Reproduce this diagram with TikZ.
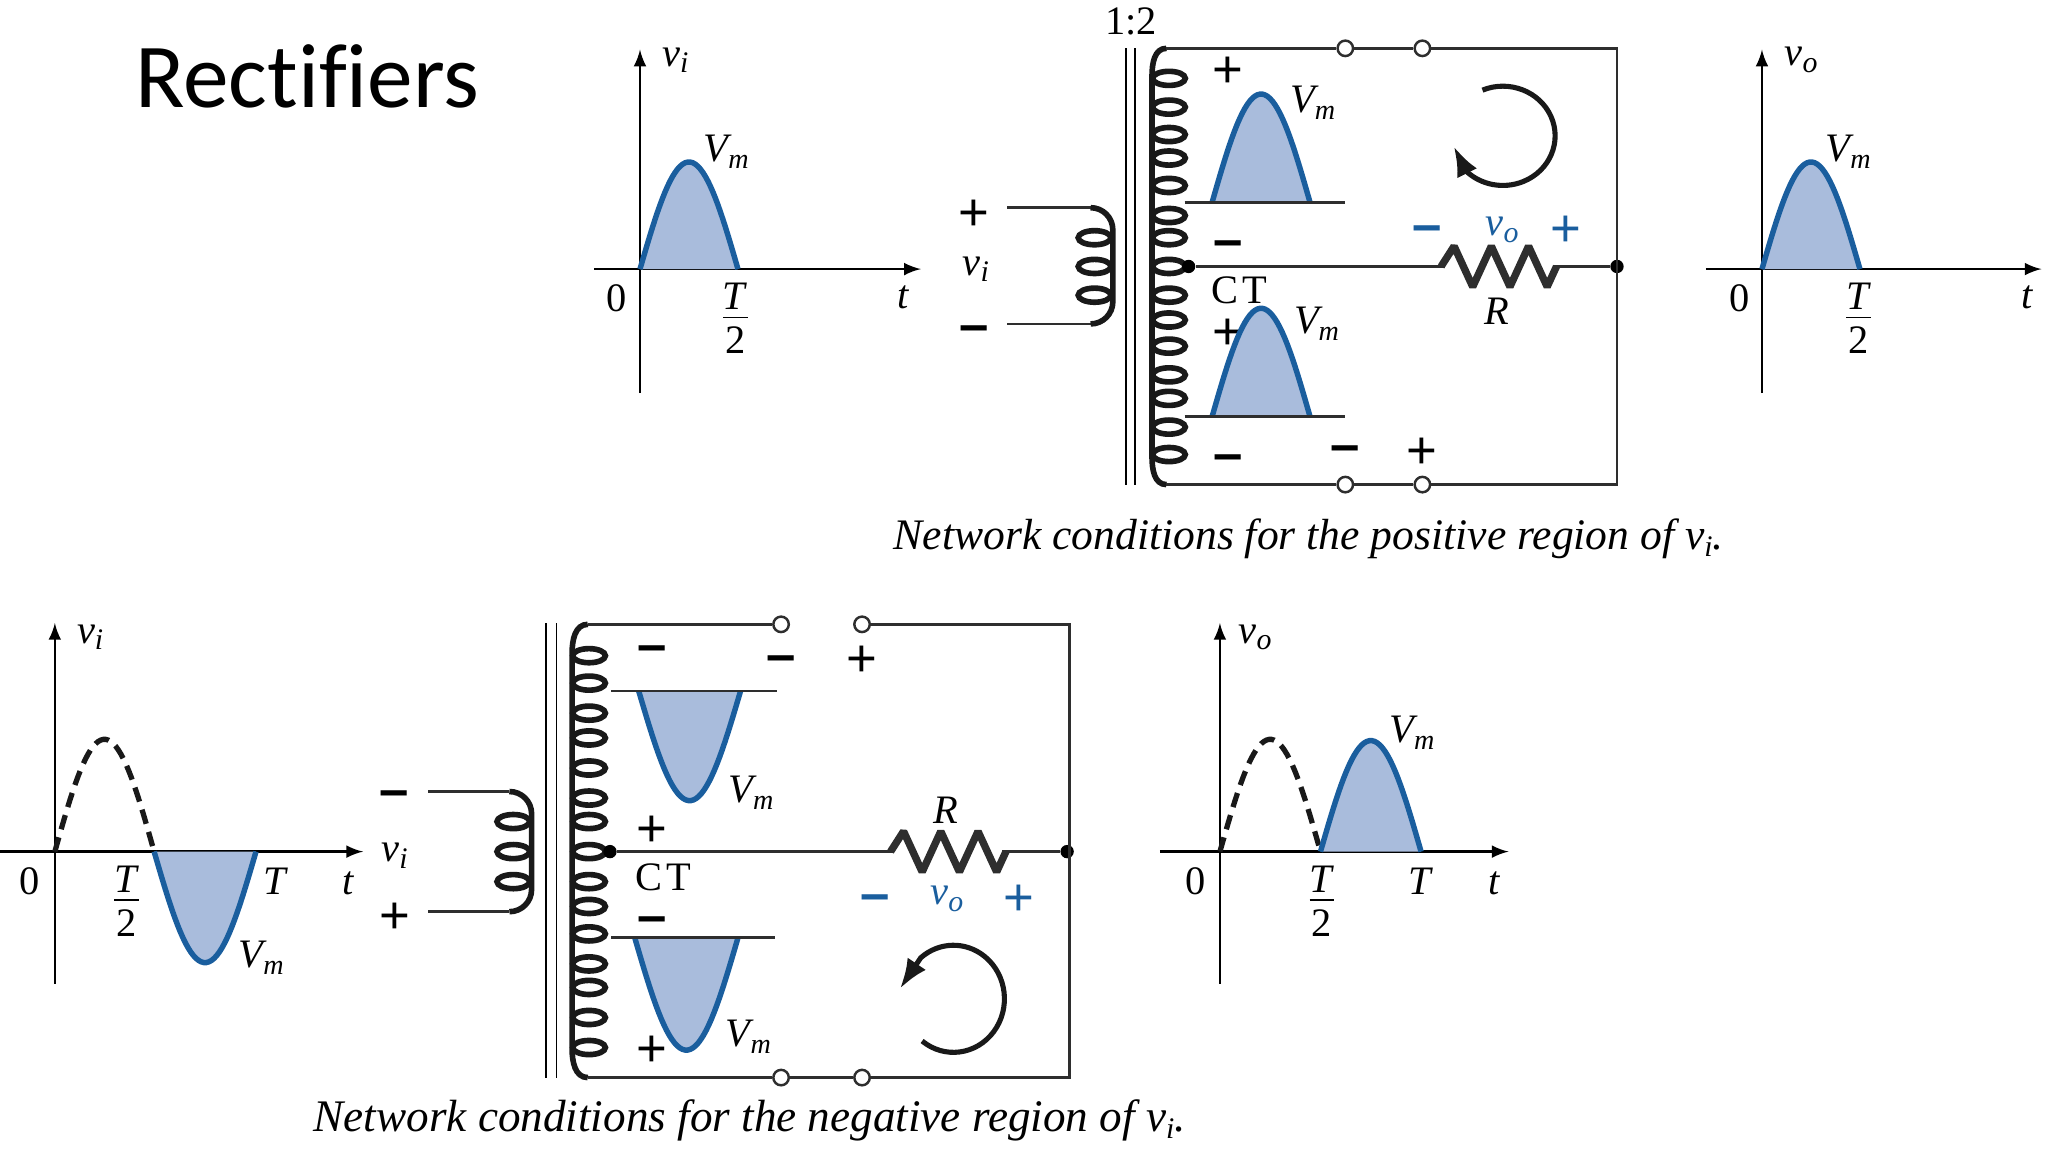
\documentclass[tikz,border=0pt]{standalone}
\usepackage{amsmath}
\usepackage{fontspec}
\usepackage{circuitikz}
\usetikzlibrary{arrows.meta}
\setmainfont{Liberation Serif}
\newfontfamily\titlefont{Carlito}[Ligatures=NoCommon]
\newfontfamily\signfont{Liberation Sans}
\tikzset{>=latex}
\ctikzset{bipoles/thickness=2.8}
\definecolor{humpblue}{HTML}{1A5E9E}
\definecolor{humpshade}{HTML}{A9BCDC}
\definecolor{wiregray}{HTML}{2E2E2E}
\tikzset{
	wire/.style={line width=.75pt,draw=wiregray},
	axis/.style={line width=.65pt,draw=black,->},
	coil/.style={line width=1.6pt,draw=black!90},
	core/.style={line width=.5pt,draw=black},
	turn/.style={line width=1.45pt,draw=black!90,-{Latex[length=3mm,width=2.2mm]}},
	dashhump/.style={line width=1.5pt,draw=black!90,dash pattern=on 4.2pt off 2.4pt},
	lab/.style={inner sep=0pt,font=\fontsize{11.5}{13}\selectfont},
	captext/.style={inner sep=0pt,font=\fontsize{12.4}{15}\selectfont\itshape},
	captextb/.style={inner sep=0pt,font=\fontsize{12.85}{15}\selectfont\itshape},
	sign/.style={inner sep=0pt,yshift=-.8pt,font=\fontsize{15}{15}\signfont},
	dashsign/.style={inner sep=0pt,yshift=-1.7pt,font=\fontsize{15}{15}\signfont\bfseries},
	bluesign/.style={sign,text=humpblue},
	bluedash/.style={dashsign,text=humpblue},
	term/.style={circle,draw=wiregray,fill=white,line width=.7pt,inner sep=0pt,minimum size=4.4pt},
	joint/.style={circle,fill=black,inner sep=0pt,minimum size=3.8pt}
}
\newcommand{\sublab}[2]{\textit{#1}\raisebox{-.35ex}{\fontsize{8.5}{9}\selectfont\textit{#2}}}
\newcommand{\peakV}{\textit{V}\kern-.1em\raisebox{-2pt}{\fontsize{8}{9}\selectfont\textit{m}}}
\newcommand{\halfT}{\shortstack[c]{\textit{T}\\[-1.1pt]\rule{7pt}{.4pt}\\[-.4pt]2}}
\newcommand{\hump}[4]{%
	\fill[humpshade] plot[domain=0:180,samples=40] ({#1+#3*\x/180},{#2-#4*sin(\x)}) -- cycle;
	\draw[line width=1.55pt,humpblue] plot[domain=0:180,samples=40] ({#1+#3*\x/180},{#2-#4*sin(\x)});}
\newcommand{\windings}[2]{%
	\foreach \y in {#2} \draw[coil] (#1,\y) ellipse [x radius=12.5,y radius=5.4];}

\begin{document}
\begin{tikzpicture}[x=20.48cm/1568,y=-20.48cm/1568]
	\useasboundingbox (0,0) rectangle (1568,882);

	\node[inner sep=0pt,anchor=base west,font=\fontsize{26}{30}\titlefont] (title) at (103,82) {Rectifiers};

	\coordinate (xa) at (455,206);
	\coordinate (xb) at (705,206);
	\coordinate (ya) at (490,301);
	\coordinate (yb) at (490,38);
	\draw[axis] (xa) -- (xb);
	\draw[axis] (ya) -- (yb);
	\hump{490}{206}{75}{82}
	\node[lab] (vitop) at (517,46) {\sublab{v}{i}};
	\node[lab] (vmtop) at (556,116) {\peakV};
	\node[lab] (zerotop) at (472,228) {0};
	\node[lab] (tfrtop) at (563,244) {\halfT};
	\node[lab] (ttop) at (692,228) {\textit{t}};

	\draw[core] (862,37) -- (862,371);
	\draw[core] (869,37) -- (869,371);
	\node[lab] (ratio) at (866,16) {1:2};
	\coordinate (pa) at (771,159);
	\coordinate (pb) at (835,159);
	\coordinate (pc) at (852,176);
	\coordinate (pd) at (852,231);
	\coordinate (pe) at (835,248);
	\coordinate (pf) at (771,248);
	\draw[wire] (pa) -- (pb);
	\draw[wire] (pe) -- (pf);
	\draw[coil] (pb) to[out=0,in=90] (pc) -- (pd) to[out=-90,in=0] (pe);
	\windings{838}{182,204,226}
	\node[sign] (pplus) at (746,163) {+};
	\node[lab] (pvi) at (747,206) {\sublab{v}{i}};
	\node[dashsign] (pminus) at (746,251) {–};

	\coordinate (sa) at (893,37);
	\coordinate (sb) at (882,58);
	\coordinate (sc) at (882,350);
	\coordinate (sd) at (893,371);
	\draw[coil] (sa) to[out=180,in=90] (sb) -- (sc) to[out=-90,in=180] (sd);
	\windings{895}{60,82,103,121,142,165,182,204,226,245,265,287,305,327,348}

	\node[term] (ta) at (1030,37) {};
	\node[term] (tb) at (1089,37) {};
	\node[term] (tc) at (1089,371) {};
	\node[term] (td) at (1030,371) {};
	\coordinate (cnra) at (1238,37);
	\coordinate (cnrb) at (1238,371);
	\node[joint] (ct) at (910,204) {};
	\node[joint] (jr) at (1238,204) {};
	\coordinate (ra) at (1077,204);
	\coordinate (rb) at (1218,204);
	\draw[wire] (sa) -- (ta) -- (tb) -- (cnra) -- (cnrb) -- (tc) -- (td) -- (sd);
	\draw[wire] (ct) -- (ra) to[american resistor,bipoles/length=1.35cm] (rb) -- (jr);

	\node[sign] (splus) at (940,53) {+};
	\node[dashsign] (sminus) at (940,186) {–};
	\node[lab] (cttext) at (949,222) {C\kern1pt T};
	\node[sign] (uplus) at (940,254) {+};
	\node[dashsign] (uminus) at (940,350) {–};
	\node[dashsign] (gminus) at (1030,343) {–};
	\node[sign] (gplus) at (1089,345) {+};
	\node[bluedash] (ominus) at (1093,175) {–};
	\node[lab,text=humpblue] (vores) at (1150,176) {\sublab{v}{o}};
	\node[bluesign] (oplus) at (1199,175) {+};
	\node[lab] (rtext) at (1146,238) {\textit{R}};

	\coordinate (bla) at (907,155);
	\coordinate (blb) at (1030,155);
	\coordinate (blc) at (907,319);
	\coordinate (bld) at (1030,319);
	\hump{928}{155}{75}{83}
	\hump{928}{319}{75}{83}
	\draw[wire] (bla) -- (blb);
	\draw[wire] (blc) -- (bld);
	\node[lab] (vma) at (1005,79) {\peakV};
	\node[lab] (vmb) at (1008,248) {\peakV};

	\coordinate (cura) at (1135,69);
	\coordinate (curb) at (1113,112);
	\draw[turn] (cura) arc[start angle=-113,end angle=135,x radius=40,y radius=38] -- (curb);

	\coordinate (oxa) at (1306,206);
	\coordinate (oxb) at (1563,206);
	\coordinate (oya) at (1349,301);
	\coordinate (oyb) at (1349,38);
	\draw[axis] (oxa) -- (oxb);
	\draw[axis] (oya) -- (oyb);
	\hump{1349}{206}{75}{82}
	\node[lab] (votop) at (1379,46) {\sublab{v}{o}};
	\node[lab] (vmo) at (1415,116) {\peakV};
	\node[lab] (zeroo) at (1332,228) {0};
	\node[lab] (tfro) at (1423,244) {\halfT};
	\node[lab] (tlo) at (1552,228) {\textit{t}};

	\node[captext] (captop) at (1002,412.5) {Network conditions for the positive region of \sublab{v}{i}.};

	\coordinate (nxa) at (0,652);
	\coordinate (nxb) at (278,652);
	\coordinate (nya) at (42,753);
	\coordinate (nyb) at (42,477);
	\draw[axis] (nxa) -- (nxb);
	\draw[axis] (nya) -- (nyb);
	\draw[dashhump] plot[domain=0:180,samples=40] ({42+76*\x/180},{652-86*sin(\x)});
	\hump{118}{652}{78}{-85}
	\node[lab] (vibot) at (69,488) {\sublab{v}{i}};
	\node[lab] (zerobot) at (23,675) {0};
	\node[lab] (tfrbot) at (97,690) {\halfT};
	\node[lab] (tbot) at (211,675) {\textit{T}};
	\node[lab] (tnbot) at (267,676) {\textit{t}};
	\node[lab] (vmbot) at (200,733) {\peakV};

	\draw[core] (418,477) -- (418,825);
	\draw[core] (426,477) -- (426,825);
	\coordinate (qa) at (328,606);
	\coordinate (qb) at (390,606);
	\coordinate (qc) at (407,623);
	\coordinate (qd) at (407,681);
	\coordinate (qe) at (390,698);
	\coordinate (qf) at (328,698);
	\draw[wire] (qa) -- (qb);
	\draw[wire] (qe) -- (qf);
	\draw[coil] (qb) to[out=0,in=90] (qc) -- (qd) to[out=-90,in=0] (qe);
	\windings{393}{629,652,675}
	\node[dashsign] (qminus) at (302,607) {–};
	\node[lab] (qvi) at (302,655) {\sublab{v}{i}};
	\node[sign] (qplus) at (302,701) {+};

	\coordinate (ua) at (450,478);
	\coordinate (ub) at (438,500);
	\coordinate (uc) at (438,803);
	\coordinate (ud) at (450,825);
	\draw[coil] (ua) to[out=180,in=90] (ub) -- (uc) to[out=-90,in=180] (ud);
	\windings{451}{502,523,546,565,588,611,629,652,675,694,715,738,756,779,802}

	\node[term] (na) at (598,478) {};
	\node[term] (nb) at (660,478) {};
	\node[term] (nc) at (660,825) {};
	\node[term] (nd) at (598,825) {};
	\coordinate (cnrc) at (819,478);
	\coordinate (cnrd) at (819,825);
	\node[joint] (ctn) at (467,652) {};
	\node[joint] (jn) at (817,652) {};
	\coordinate (ia) at (655,652);
	\coordinate (ib) at (797,652);
	\draw[wire] (ua) -- (na);
	\draw[wire] (nb) -- (cnrc) -- (cnrd) -- (nc) -- (nd) -- (ud);
	\draw[wire] (ctn) -- (ia) to[american resistor,bipoles/length=1.35cm] (ib) -- (jn);

	\node[dashsign] (nminus) at (499,496) {–};
	\node[dashsign] (gmn) at (598,504) {–};
	\node[sign] (gpn) at (660,504) {+};
	\node[sign] (nplus) at (499,634) {+};
	\node[lab] (cttextn) at (508,672) {C\kern1pt T};
	\node[dashsign] (lminus) at (499,704) {–};
	\node[sign] (lplus) at (499,803) {+};
	\node[lab] (rtextn) at (724,620) {\textit{R}};
	\node[bluedash] (oneg) at (670,687) {–};
	\node[lab,text=humpblue] (vonres) at (725,688) {\sublab{v}{o}};
	\node[bluesign] (opos) at (780,687) {+};

	\coordinate (blna) at (468,529);
	\coordinate (blnb) at (595,529);
	\coordinate (blnc) at (468,718);
	\coordinate (blnd) at (593,718);
	\hump{489}{529}{78}{-84}
	\hump{486}{718}{79}{-86}
	\draw[wire] (blna) -- (blnb);
	\draw[wire] (blnc) -- (blnd);
	\node[lab] (vmna) at (575,607) {\peakV};
	\node[lab] (vmnb) at (573,794) {\peakV};

	\coordinate (curc) at (706,797);
	\coordinate (curd) at (689,757);
	\draw[turn] (curc) arc[start angle=128,end angle=-130,x radius=39,y radius=41] -- (curd);

	\coordinate (wxa) at (888,652);
	\coordinate (wxb) at (1155,652);
	\coordinate (wya) at (934,753);
	\coordinate (wyb) at (934,477);
	\draw[axis] (wxa) -- (wxb);
	\draw[axis] (wya) -- (wyb);
	\draw[dashhump] plot[domain=0:180,samples=40] ({934+77*\x/180},{652-86*sin(\x)});
	\hump{1011}{652}{77}{85}
	\node[lab] (vowbot) at (961,488) {\sublab{v}{o}};
	\node[lab] (zerow) at (915,675) {0};
	\node[lab] (tfrw) at (1012,690) {\halfT};
	\node[lab] (tw) at (1088,675) {\textit{T}};
	\node[lab] (tnw) at (1144,676) {\textit{t}};
	\node[lab] (vmw) at (1081,561) {\peakV};

	\node[captextb] (capbot) at (574,857.5) {Network conditions for the negative region of \sublab{v}{i}.};
\end{tikzpicture}
\end{document}
